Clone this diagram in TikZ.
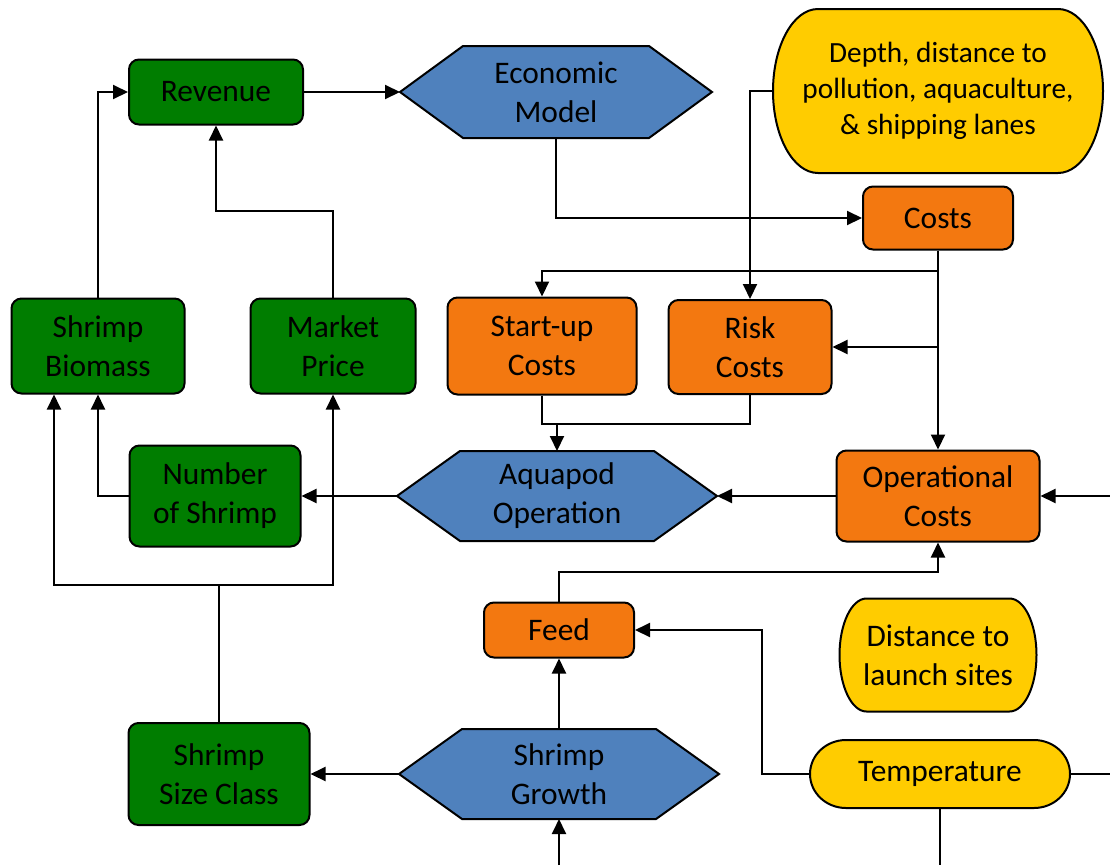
\documentclass[tikz,border=0pt]{standalone}
\usepackage{fontspec}
\setmainfont{Carlito}
\usepackage{tikz}
\usetikzlibrary{arrows.meta,positioning,calc,backgrounds}
\definecolor{shrimpgreen}{RGB}{0,125,0}
\definecolor{modelblue}{RGB}{79,129,189}
\definecolor{costorange}{RGB}{243,120,16}
\definecolor{siteyellow}{RGB}{255,204,0}
\tikzset{
    box/.style={draw, line width=2pt, rounded corners=10pt, align=center, inner sep=2pt,
        font=\fontsize{31.4}{39}\selectfont},
    greenbox/.style={box, fill=shrimpgreen},
    costbox/.style={box, fill=costorange},
    hexbox/.style={rectangle, outer sep=0pt, align=center, font=\fontsize{31.4}{39}\selectfont},
    termbox/.style={rectangle, outer sep=0pt, align=center, font=\fontsize{31.4}{39}\selectfont},
    hexline/.style={draw, line width=2pt, fill=modelblue},
    termline/.style={draw, line width=2pt, fill=siteyellow},
    conn/.style={line width=2pt},
    arr/.style={conn, -{Triangle[length=15pt, width=14pt]}}
}
\begin{document}
\begin{tikzpicture}[x=1pt, y=-1pt]
    \useasboundingbox (0,0) rectangle (1110,865);

    % Green boxes (shrimp side)
    \node[greenbox, minimum width=174pt, minimum height=65pt] (revenue) at (216,92) {Revenue};
    \node[greenbox, minimum width=173pt, minimum height=95pt] (biomass) at (98,346) {Shrimp\\Biomass};
    \node[greenbox, minimum width=165pt, minimum height=95pt] (price) at (333,346) {Market\\Price};
    \node[greenbox, minimum width=171pt, minimum height=101pt] (number) at (215,496) {Number\\of Shrimp};
    \node[greenbox, minimum width=181pt, minimum height=102pt] (sizeclass) at (219,774) {Shrimp\\Size Class};

    % Orange boxes (costs)
    \node[costbox, minimum width=150pt, minimum height=63pt] (costs) at (938,218) {Costs};
    \node[costbox, minimum width=189pt, minimum height=97pt] (startup) at (542,346) {Start-up\\Costs};
    \node[costbox, minimum width=163pt, minimum height=94pt] (risk) at (750,347) {Risk\\Costs};
    \node[costbox, minimum width=203pt, minimum height=91pt] (opcost) at (938,496) {Operational\\Costs};
    \node[costbox, minimum width=150pt, minimum height=55pt] (feed) at (559,630) {Feed};

    % Models
    \node[hexbox, minimum width=312pt, minimum height=92pt] (econ) at (556,92) {Economic\\Model};
    \node[hexbox, minimum width=320pt, minimum height=90pt] (aqua) at (557,496) {Aquapod\\Operation};
    \node[hexbox, minimum width=320pt, minimum height=90pt] (growth) at (559,774) {Shrimp\\Growth};

    % Site data
    \node[termbox, minimum width=330pt, minimum height=164pt, font=\fontsize{29.3}{36}\selectfont] (depth) at (938,91)
        {Depth, distance to\\pollution, aquaculture,\\\& shipping lanes};
    \node[termbox, minimum width=197pt, minimum height=113pt] (launch) at (938,655) {Distance to\\launch sites};
    \node[termbox, minimum width=260pt, minimum height=68pt] (temp) at (940,774) {Temperature};

    \begin{scope}[on background layer]
        \foreach \n in {econ,aqua,growth} {
            \draw[hexline] (\n.west) -- ([xshift=63pt]\n.north west) -- ([xshift=-63pt]\n.north east)
                -- (\n.east) -- ([xshift=-63pt]\n.south east) -- ([xshift=63pt]\n.south west) -- cycle;
        }
        \foreach \n/\rx/\ry in {depth/45/82, launch/27/56.5, temp/36/34} {
            \draw[termline] ([xshift=\rx pt]\n.north west) -- ([xshift=-\rx pt]\n.north east)
                arc[start angle=90, end angle=-90, x radius=\rx pt, y radius=\ry pt]
                -- ([xshift=\rx pt]\n.south west)
                arc[start angle=270, end angle=90, x radius=\rx pt, y radius=\ry pt] -- cycle;
        }
    \end{scope}

    % Edge points
    \coordinate (rightin) at (1110,496);
    \coordinate (rightout) at (1110,774);
    \coordinate (bottomout) at (940,865);
    \coordinate (bottomin) at (559,865);
    \coordinate (costjoin) at ([yshift=-28pt]startup.south);
    \coordinate (sizesplit) at ([yshift=137pt]sizeclass.north);

    % Revenue and costs
    \draw[arr] (biomass.north) |- (revenue.west);
    \draw[arr] (price.north) -- ++(0,-87) -| (revenue.south);
    \draw[arr] (revenue) -- (econ);
    \draw[arr] (econ.south) |- (costs.west);
    \draw[arr] (depth.west) -| (risk.north);
    \draw[arr] (costs.south) -- ++(0,20) -| (startup.north);
    \draw[arr] (costs.south) -- (opcost.north);
    \draw[arr] (costs.south |- risk.east) -- (risk.east);
    \draw[conn] (startup.south) -- (costjoin) -| (risk.south);
    \draw[arr] (costjoin -| aqua.north) -- (aqua.north);

    % Operation
    \draw[arr] (rightin) -- (opcost.east);
    \draw[arr] (opcost) -- (aqua);
    \draw[arr] (aqua) -- (number);
    \draw[arr] (number.west) -| (biomass.south);

    % Growth
    \draw[conn] (sizeclass.north) -- (sizesplit);
    \draw[arr] (sizesplit) -| ([xshift=-44pt]biomass.south);
    \draw[arr] (sizesplit) -| (price.south);
    \draw[arr] (growth) -- (sizeclass);
    \draw[arr] (growth) -- (feed);
    \draw[arr] (feed.north) -- ++(0,-30) -| (opcost.south);
    \draw[arr] (temp.west) -- ++(-48,0) |- (feed.east);
    \draw[conn] (temp.east) -- (rightout);
    \draw[conn] (temp.south) -- (bottomout);
    \draw[arr] (bottomin) -- (growth.south);
\end{tikzpicture}
\end{document}
